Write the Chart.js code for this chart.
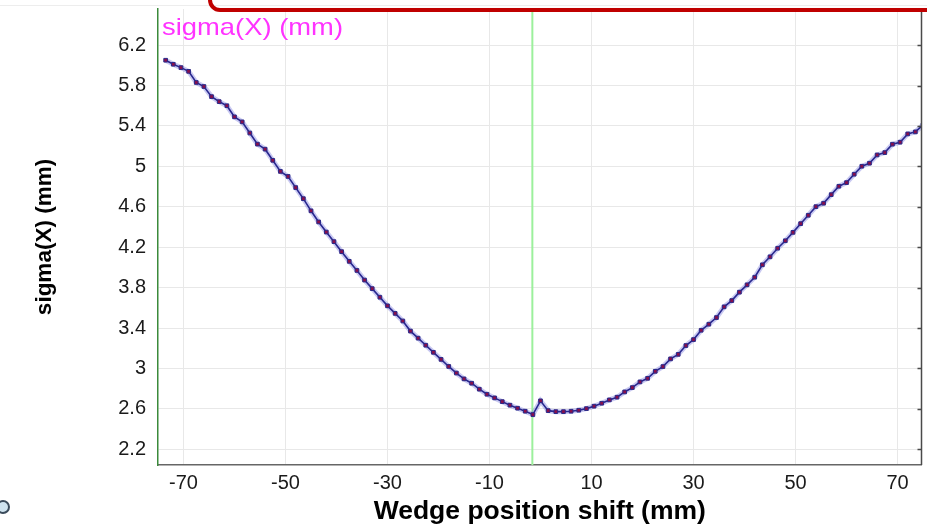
<!DOCTYPE html>
<html>
<head>
<meta charset="utf-8">
<script src="https://cdn.jsdelivr.net/npm/chart.js@4.4.0/dist/chart.umd.min.js"></script>
<style>
    html, body { margin: 0; padding: 0; background: #fff; }
    #wrap { position: relative; width: 927px; height: 526px; overflow: hidden; background: #fff; }
    #chart { position: absolute; left: 0; top: 0; }
    #topline { position: absolute; left: 0; top: 5px; width: 927px; height: 1px; background: #ededed; }
    #frame { position: absolute; left: 208px; top: -60px; width: 760px; height: 72px; box-sizing: border-box;
             border: 4px solid #c00000; border-radius: 12px; }
    #knob { position: absolute; left: -4px; top: 500px; width: 14px; height: 14px; box-sizing: border-box;
            border: 2px solid #3b4b5b; border-radius: 50%; background: #cfe3ef; }
</style>
</head>
<body>
<div id="wrap">
    <canvas id="chart" width="927" height="526"></canvas>
    <div id="topline"></div>
    <div id="frame"></div>
    <div id="knob"></div>
</div>
<script>
// wedge position shift (mm)
const shift = [
    -73.5, -72, -70.5, -69, -67.5, -66, -64.5, -63, -61.5, -60,
    -58.5, -57, -55.5, -54, -52.5, -51, -49.5, -48, -46.5, -45,
    -43.5, -42, -40.5, -39, -37.5, -36, -34.5, -33, -31.5, -30,
    -28.5, -27, -25.5, -24, -22.5, -21, -19.5, -18, -16.5, -15,
    -13.5, -12, -10.5, -9, -7.5, -6, -4.5, -3, -1.5, 0,
    1.5, 3, 4.5, 6, 7.5, 9, 10.5, 12, 13.5, 15,
    16.5, 18, 19.5, 21, 22.5, 24, 25.5, 27, 28.5, 30,
    31.5, 33, 34.5, 36, 37.5, 39, 40.5, 42, 43.5, 45,
    46.5, 48, 49.5, 51, 52.5, 54, 55.5, 57, 58.5, 60,
    61.5, 63, 64.5, 66, 67.5, 69, 70.5, 72, 73.5, 75
];
// sigma(X) (mm)
const sigmaX = [
    6.05, 6.01, 5.977, 5.94, 5.83, 5.79, 5.69, 5.64, 5.60, 5.49,
    5.44, 5.33, 5.22, 5.17, 5.06, 4.95, 4.90, 4.79, 4.68, 4.56,
    4.45, 4.35, 4.255, 4.156, 4.06, 3.97, 3.875, 3.79, 3.705, 3.62,
    3.545, 3.47, 3.37, 3.30, 3.23, 3.16, 3.09, 3.02, 2.955, 2.897,
    2.854, 2.795, 2.745, 2.709, 2.672, 2.637, 2.607, 2.577, 2.544, 2.68,
    2.583, 2.573, 2.573, 2.577, 2.587, 2.603, 2.627, 2.656, 2.689, 2.716,
    2.768, 2.811, 2.867, 2.903, 2.972, 3.019, 3.095, 3.14, 3.227, 3.286,
    3.378, 3.438, 3.504, 3.61, 3.672, 3.755, 3.828, 3.903, 4.026, 4.105,
    4.19, 4.264, 4.347, 4.433, 4.516, 4.601, 4.635, 4.72, 4.803, 4.839,
    4.922, 5.001, 5.031, 5.113, 5.136, 5.219, 5.239, 5.321, 5.341, 5.41
];
const xTicks = [-70, -50, -30, -10, 10, 30, 50, 70];
const yTicks = [2.2, 2.6, 3, 3.4, 3.8, 4.2, 4.6, 5, 5.4, 5.8, 6.2];
const markerX = -1.6;
const xRange = [-75, 74.7];
const yRange = [2.045, 6.557];

const points = shift.map((x, i) => ({ x, y: sigmaX[i] }));
const FONT = 'Liberation Sans, Arial, sans-serif';

const plotExtras = {
    id: 'plotExtras',
    afterDatasetsDraw(chart) {
        const { ctx, chartArea: a, scales: { y } } = chart;
        ctx.save();
        ctx.strokeStyle = '#4a4a4a';
        ctx.lineWidth = 1.5;
        ctx.beginPath();
        ctx.moveTo(a.right, a.top);
        ctx.lineTo(a.right, a.bottom);
        y.ticks.forEach(t => {
            const py = Math.round(y.getPixelForValue(t.value)) + 0.5;
            ctx.moveTo(a.right - 4, py);
            ctx.lineTo(a.right, py);
        });
        ctx.stroke();

        // series label inside the plot
        const label = 'sigma(X) (mm)';
        ctx.font = '24px ' + FONT;
        ctx.fillStyle = '#ff33ff';
        ctx.textBaseline = 'alphabetic';
        const w = ctx.measureText(label).width;
        ctx.translate(a.left + 4, 35);
        ctx.scale(181 / w, 1);
        ctx.fillText(label, 0, 0);
        ctx.restore();
    }
};

new Chart(document.getElementById('chart'), {
    type: 'line',
    data: {
        datasets: [
            {
                data: points,
                borderColor: '#28288f',
                borderWidth: 1.6,
                pointStyle: 'rect',
                pointRadius: 2.6,
                pointBackgroundColor: '#8a0f4a',
                pointBorderColor: '#2a2a8a',
                pointBorderWidth: 1,
                tension: 0,
                order: 1,
            },
            {
                data: points,
                borderColor: 'rgba(100,100,215,0.35)',
                borderWidth: 5,
                pointRadius: 0,
                tension: 0,
                order: 2,
            },
            {
                data: [{ x: markerX, y: 1.5 }, { x: markerX, y: 7 }],
                borderColor: '#9cf09c',
                borderWidth: 2,
                pointRadius: 0,
                order: 3,
            },
        ],
    },
    options: {
        responsive: false,
        animation: false,
        devicePixelRatio: 1,
        layout: { padding: { top: 9, right: 5.5, left: 0, bottom: 0 } },
        plugins: { legend: { display: false }, tooltip: { enabled: false } },
        scales: {
            x: {
                type: 'linear',
                min: xRange[0],
                max: xRange[1],
                afterBuildTicks: s => { s.ticks = xTicks.map(v => ({ value: v })); },
                afterFit: s => { s.height = 61; s.paddingLeft = 0; s.paddingRight = 0; },
                grid: { color: '#e8e8e8', lineWidth: 1, drawTicks: false },
                border: { color: '#666', width: 1.5 },
                ticks: { color: '#1a1a1a', padding: 6, font: { family: FONT, size: 20 }, callback: v => String(v) },
                title: {
                    display: true,
                    text: 'Wedge position shift (mm)',
                    color: '#000',
                    font: { family: FONT, size: 26.5, weight: 'bold', lineHeight: 1 },
                    padding: { top: 0, bottom: 1 },
                },
            },
            y: {
                min: yRange[0],
                max: yRange[1],
                afterBuildTicks: s => { s.ticks = yTicks.map(v => ({ value: v })); },
                afterFit: s => { s.width = 158; s.paddingTop = 0; s.paddingBottom = 0; },
                grid: { color: '#e8e8e8', lineWidth: 1, drawTicks: false },
                border: { color: '#3b8a3b', width: 1.5 },
                ticks: { color: '#1a1a1a', padding: 12, font: { family: FONT, size: 20 }, callback: v => String(+v.toFixed(1)) },
                title: {
                    display: true,
                    text: 'sigma(X) (mm)',
                    color: '#000',
                    font: { family: FONT, size: 22.5, weight: 'bold', lineHeight: 1 },
                    padding: { top: 34, bottom: 0 },
                },
            },
        },
    },
    plugins: [plotExtras],
});
</script>
</body>
</html>
